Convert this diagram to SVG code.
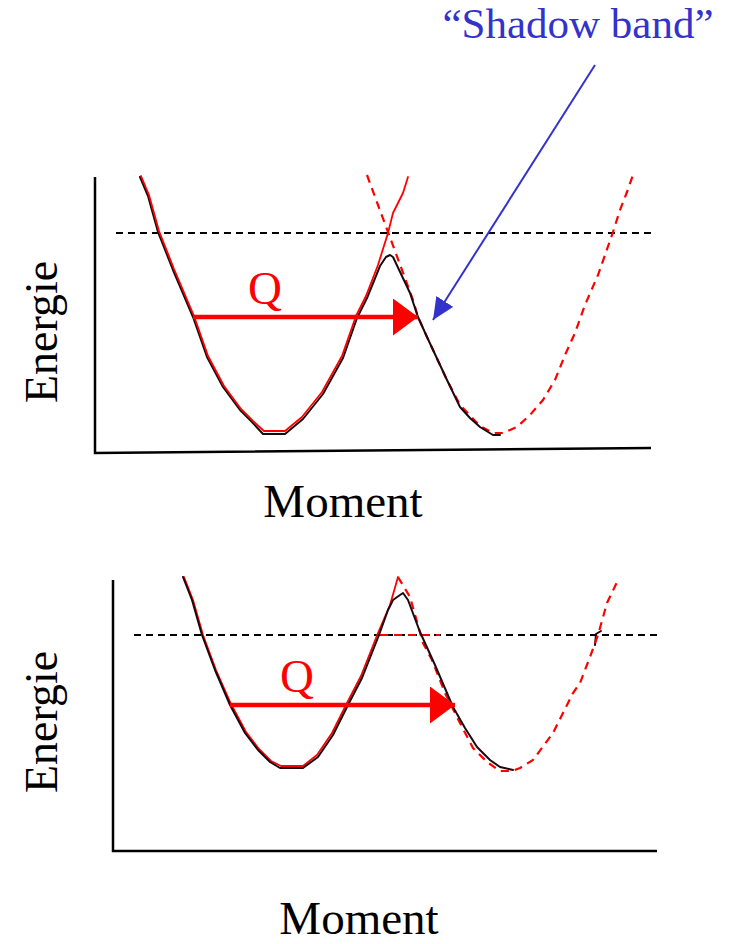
<svg xmlns="http://www.w3.org/2000/svg" width="735" height="944" viewBox="0 0 735 944">
<style>
.t{font-family:"Liberation Serif","Times New Roman",serif;font-size:46px;fill:#000}
.m{font-family:"Liberation Serif","Times New Roman",serif;font-size:47px;fill:#000}
.q{font-family:"Liberation Serif","Times New Roman",serif;font-size:47px;fill:#ff0000}
.sb{font-family:"Liberation Serif","Times New Roman",serif;font-size:43px;fill:#3333cc}
.ax{fill:none;stroke:#000;stroke-width:2.5}
.lvl{fill:none;stroke:#000;stroke-width:2;stroke-dasharray:7 5}
.blk{fill:none;stroke:#1a0a10;stroke-width:2;stroke-linejoin:round;stroke-linecap:round}
.red{fill:none;stroke:#ff0000;stroke-width:1.8;stroke-linejoin:round;stroke-linecap:round}
.rdash{fill:none;stroke:#ff0000;stroke-width:2.2;stroke-dasharray:8 6}
.qarr{fill:none;stroke:#ff0000;stroke-width:4.5}
.barr{fill:none;stroke:#3333cc;stroke-width:2}
</style>
<defs>
<marker id="redhead" viewBox="0 0 25 37" refX="25" refY="18.5" markerWidth="25" markerHeight="37" markerUnits="userSpaceOnUse" orient="auto">
<path d="M0,0 L25,18.5 L0,37 z" fill="#ff0000"/>
</marker>
<marker id="bluehead" viewBox="0 0 22 20" refX="22" refY="10" markerWidth="22" markerHeight="20" markerUnits="userSpaceOnUse" orient="auto">
<path d="M0,0 L22,10 L0,20 z" fill="#3333cc"/>
</marker>
</defs>

<g id="top-panel">
<g id="top-axes">
<path class="ax" d="M95,177 L95,453 L651,448"/>
</g>
<g id="top-level">
<path class="lvl" d="M116,233 L653,233"/>
</g>
<g id="top-red-dashed">
<path class="rdash" d="M367,175 L378,205 L388,232 L402,270 L413,300 L418,317 L427,337 L447,380 L460,405 L480,426 L493,433 L503,433 L517,427 L530,415 L543,400 L555,380 L565,355 L575,333 L585,305 L598,275 L605,255 L613,232 L620,210 L627,192 L633,175"/>
</g>
<g id="top-black-curve">
<path class="blk" d="M140,177 L148,196 L158,232 L173,270 L193,317 L207,357 L223,387 L240,410 L252,422 L263,434 L285,434 L303,419 L323,394 L343,358 L357,318 L367,298 L380,266 L386,257 L390,255 L393,257 L410,293 L418,317 L427,337 L447,380 L460,407 L470,418 L480,427 L493,435 L500,435"/>
</g>
<g id="top-red-curve">
<path class="red" d="M141,176 L149,195 L159,231 L174,269 L194,316 L208,356 L224,386 L241,409 L253,421 L264,431 L285,431 L302,417 L322,392 L342,356 L356,316 L366,296 L378,265 L388,233 L393,213 L403,193 L408,177"/>
</g>
<g id="top-q">
<path class="qarr" d="M193,317 L418,317" marker-end="url(#redhead)"/>
<text class="q" x="265" y="304" text-anchor="middle">Q</text>
</g>
<g id="top-labels">
<text class="t" transform="translate(57,332) rotate(-90)" text-anchor="middle">Energie</text>
<text class="m" x="343" y="517" text-anchor="middle">Moment</text>
</g>
</g>

<g id="shadow-band">
<text class="sb" x="578" y="38" text-anchor="middle">“Shadow band”</text>
<path class="barr" d="M595,65 L433,320" marker-end="url(#bluehead)"/>
</g>

<g id="bottom-panel">
<g id="bottom-axes">
<path class="ax" d="M113,580 L113,851 L657,851"/>
</g>
<g id="bottom-level">
<path class="lvl" d="M134,635 L658,635"/>
<path class="rdash" d="M380,635 L440,635"/>
<path class="blk" d="M595,645 L596,634 L601,631"/>
</g>
<g id="bottom-red-dashed">
<path class="rdash" d="M398,577 L410,597 L423,643 L432,660 L445,693 L460,723 L473,748 L487,762 L500,771 L512,771 L520,768 L533,760 L553,733 L573,693 L580,683 L590,657 L598,635 L607,603 L618,580"/>
</g>
<g id="bottom-red-curve">
<path class="red" d="M184,577 L193,600 L203,635 L216,670 L231,704 L246,732 L259,749 L271,761 L281,766 L303,766 L317,755 L332,733 L347,703 L361,676 L378,633 L390,605 L398,577"/>
</g>
<g id="bottom-black-curve">
<path class="blk" d="M183,577 L192,600 L202,635 L215,670 L230,705 L245,733 L258,750 L270,762 L280,768 L303,768 L318,757 L333,735 L348,705 L362,678 L379,635 L388,610 L393,600 L400,595 L403,593 L408,600 L420,632 L435,665 L453,707 L465,728 L477,747 L490,760 L500,767 L513,770"/>
</g>
<g id="bottom-q">
<path class="qarr" d="M230,705 L455,705" marker-end="url(#redhead)"/>
<text class="q" x="297" y="692" text-anchor="middle">Q</text>
</g>
<g id="bottom-labels">
<text class="t" transform="translate(57,722) rotate(-90)" text-anchor="middle">Energie</text>
<text class="m" x="359" y="934" text-anchor="middle">Moment</text>
</g>
</g>
</svg>
